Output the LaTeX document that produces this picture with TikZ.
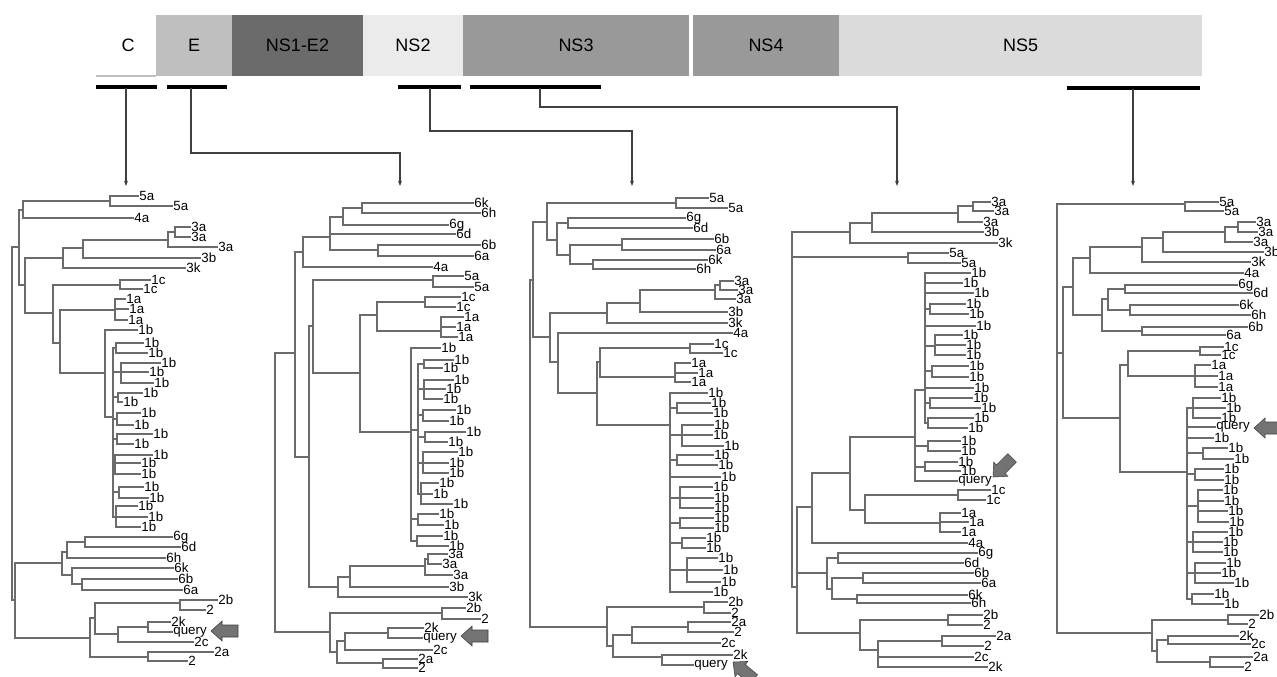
\documentclass[tikz,border=0pt]{standalone}
\usepackage{fontspec}
\setmainfont{Liberation Sans}
\usetikzlibrary{arrows.meta}
\tikzset{
  br/.style={draw=black!58,line width=0.9pt,line cap=rect},
  lbl/.style={anchor=west,inner sep=0.6pt,font=\fontsize{10}{10}\selectfont,text=black},
  seglbl/.style={font=\fontsize{13.5}{14}\selectfont,text=black},
  ul/.style={draw=black,line width=2.4pt},
  conn/.style={draw=black!75,line width=0.8pt,-{Stealth[length=4pt,width=3pt]}},
  qa/.style={fill=black!55,draw=black!75,line width=0.4pt}
}
\newcommand\vt[3]{\draw[br] (#1,#2) -- (#1,#3);}
\newcommand\hz[3]{\draw[br] (#1,#3) -- (#2,#3);}
\newcommand\lf[4]{\draw[br] (#1,#3) -- (#2,#3) node[lbl]{#4};}
\newcommand\gp[4]{\vt{#1}{#2}{#3}\foreach \xe/\ye/\lb in {#4}{\draw[br] (#1,\ye) -- (\xe,\ye) node[lbl]{\lb};}}
\newcommand\qarrow[3]{\fill[qa,shift={(#1,#2)},rotate=#3] (0,0) -- (11,10) -- (11,6) -- (27,6) -- (27,-6) -- (11,-6) -- (11,-10) -- cycle;}
\begin{document}
\begin{tikzpicture}[x=0.75pt,y=-0.75pt]
\fill[white] (0,0) rectangle (1277,676);
\useasboundingbox (0,0) rectangle (1277,676);
% ---------------- genome bar ----------------
\draw[black!25,line width=0.8pt] (96,76) -- (156,76);
\node[seglbl] (C) at (128,45) {C};
\path[fill=black!25] (156,15) rectangle (232,76) node[midway,seglbl] (E) {E};
\path[fill=black!58] (232,15) rectangle (363,76) node[midway,seglbl] (NSa) {NS1-E2};
\path[fill=black!8] (363,15) rectangle (463,76) node[midway,seglbl] (NSb) {NS2};
\path[fill=black!40] (463,15) rectangle (689,76) node[midway,seglbl] (NSc) {NS3};
\path[fill=black!40] (693,15) rectangle (839,76) node[midway,seglbl] (NSd) {NS4};
\path[fill=black!14] (839,15) rectangle (1202,76) node[midway,seglbl] (NSe) {NS5};
% underlines
\draw[ul] (96,87) -- (157,87);
\draw[ul] (167,87) -- (227,87);
\draw[ul] (398,87) -- (461,87);
\draw[ul] (470,87) -- (601,87);
\draw[ul] (1067,88) -- (1200,88);
\coordinate (uC) at (126,88);
\coordinate (uE) at (191,88);
\coordinate (uNSb) at (430,88);
\coordinate (uNSc) at (540,88);
\coordinate (uNSe) at (1133,89);
\coordinate (t1) at (126,186);
\coordinate (t2) at (400,186);
\coordinate (t3) at (632,186);
\coordinate (t4) at (897,186);
\coordinate (t5) at (1133,186);
\draw[conn] (uC) -- (t1);
\draw[conn] (uE) -- ++(0,65) -| (t2);
\draw[conn] (uNSb) -- ++(0,43) -| (t3);
\draw[conn] (uNSc) -- ++(0,19) -| (t4);
\draw[conn] (uNSe) -- (t5);
% ================= TREE 1 =================
\vt{12}{247}{600}
\hz{12}{19}{247}
\vt{19}{210}{285}
\hz{19}{23}{210}
\vt{23}{201}{218}
\hz{23}{110}{201}
\gp{110}{196}{206}{138/196/5a,172/206/5a}
\lf{23}{133}{218}{4a}
\hz{19}{25}{285}
\vt{25}{258}{313}
\hz{25}{63}{258}
\vt{63}{248}{268}
\hz{63}{83}{248}
\vt{83}{240}{258}
\hz{83}{168}{240}
\vt{168}{232}{247}
\hz{168}{175}{232}
\gp{175}{227}{237}{190/227/3a,190/237/3a}
\lf{168}{217}{247}{3a}
\lf{83}{200}{258}{3b}
\lf{63}{185}{268}{3k}
\hz{25}{53}{313}
\vt{53}{285}{343}
\hz{53}{120}{285}
\gp{120}{280}{289}{150/280/1c,142/289/1c}
\hz{53}{60}{343}
\vt{60}{310}{373}
\hz{60}{115}{310}
\gp{115}{299}{320}{125/299/1a,128/309/1a,127/320/1a}
\hz{60}{105}{373}
\vt{105}{330}{417}
\lf{105}{137}{330}{1b}
\hz{105}{113}{417}
\vt{113}{348}{517}
\hz{113}{116}{348}\gp{116}{343}{353}{143/343/1b,147/353/1b}
\hz{113}{121}{372}\gp{121}{363}{383}{160/363/1b,148/372/1b,153/383/1b}
\hz{113}{118}{397}\gp{118}{393}{402}{142/393/1b,122/402/1b}
\hz{113}{117}{419}\gp{117}{413}{425}{140/413/1b,133/425/1b}
\hz{113}{117}{439}\gp{117}{434}{444}{152/434/1b,133/444/1b}
\hz{113}{115}{463}\gp{115}{455}{474}{152/455/1b,140/463/1b,140/474/1b}
\hz{113}{119}{492}\gp{119}{487}{498}{143/487/1b,148/498/1b}
\hz{113}{116}{517}\gp{116}{506}{527}{137/506/1b,147/517/1b,140/527/1b}
\hz{12}{15}{600}
\vt{15}{563}{638}
\hz{15}{62}{563}
\vt{62}{552}{575}
\hz{62}{67}{552}
\vt{67}{542}{558}
\hz{67}{85}{542}
\gp{85}{537}{547}{172/537/6g,180/547/6d}
\lf{67}{165}{558}{6h}
\hz{62}{72}{575}
\vt{72}{568}{584}
\lf{72}{173}{568}{6k}
\hz{72}{82}{584}
\gp{82}{579}{590}{177/579/6b,182/590/6a}
\hz{15}{90}{638}
\vt{90}{618}{657}
\hz{90}{95}{618}
\vt{95}{603}{634}
\hz{95}{180}{603}
\gp{180}{600}{610}{217/600/2b,205/610/2}
\hz{95}{118}{634}
\vt{118}{627}{642}
\hz{118}{148}{627}
\gp{148}{622}{632}{170/622/2k,172/632/query}
\lf{118}{193}{642}{2c}
\hz{90}{148}{657}
\gp{148}{652}{661}{213/652/2a,187/661/2}
\qarrow{211}{631}{0}
% ================= TREE 2 =================
\vt{275}{353}{632}
\hz{275}{295}{353}
\vt{295}{252}{457}
\hz{295}{303}{252}
\vt{303}{237}{267}
\hz{303}{330}{237}
\vt{330}{217}{250}
\hz{330}{343}{217}
\vt{343}{208}{225}
\hz{343}{362}{208}
\gp{362}{203}{213}{473/203/6k,480/213/6h}
\lf{343}{448}{225}{6g}
\lf{330}{455}{234}{6d}
\hz{330}{378}{250}
\gp{378}{245}{256}{480/245/6b,473/256/6a}
\lf{303}{432}{267}{4a}
\hz{295}{309}{457}
\vt{309}{326}{587}
\hz{309}{313}{326}
\vt{313}{280}{373}
\hz{313}{433}{280}
\gp{433}{276}{287}{463/276/5a,473/287/5a}
\hz{313}{360}{373}
\vt{360}{315}{432}
\hz{360}{377}{315}
\vt{377}{302}{331}
\hz{377}{425}{302}
\gp{425}{297}{307}{460/297/1c,455/307/1c}
\hz{377}{441}{331}
\gp{441}{317}{337}{463/317/1a,455/327/1a,457/337/1a}
\hz{360}{411}{432}
\vt{411}{348}{541}
\lf{411}{440}{348}{1b}
\hz{411}{418}{430}
\vt{418}{364}{494}
\hz{418}{424}{364}\gp{424}{360}{368}{453/360/1b,442/368/1b}
\hz{418}{424}{389}\gp{424}{380}{399}{453/380/1b,445/389/1b,442/399/1b}
\hz{418}{423}{415}\gp{423}{410}{421}{455/410/1b,448/421/1b}
\hz{418}{425}{437}\gp{425}{432}{442}{465/432/1b,447/442/1b}
\hz{418}{423}{463}\gp{423}{452}{473}{457/452/1b,448/463/1b,448/473/1b}
\hz{418}{421}{494}\gp{421}{483}{504}{438/483/1b,432/494/1b,452/504/1b}
\hz{411}{418}{519}\gp{418}{514}{525}{438/514/1b,443/525/1b}
\hz{411}{417}{541}\gp{417}{536}{546}{442/536/1b,448/546/1b}
\hz{309}{338}{587}
\vt{338}{577}{597}
\hz{338}{350}{577}
\vt{350}{566}{587}
\hz{350}{425}{566}
\vt{425}{559}{575}
\hz{425}{428}{559}
\gp{428}{554}{564}{447/554/3a,441/564/3a}
\lf{425}{452}{575}{3a}
\lf{350}{448}{587}{3b}
\lf{338}{467}{597}{3k}
\hz{275}{330}{632}
\vt{330}{613}{652}
\hz{330}{442}{613}
\gp{442}{608}{619}{465/608/2b,480/619/2}
\hz{330}{337}{652}
\vt{337}{641}{663}
\hz{337}{345}{641}
\vt{345}{633}{650}
\hz{345}{388}{633}
\gp{388}{628}{638}{423/628/2k,422/638/query}
\lf{345}{432}{650}{2c}
\hz{337}{383}{663}
\gp{383}{659}{668}{417/659/2a,417/668/2}
\qarrow{461}{636}{0}
% ================= TREE 3 =================
\vt{530}{280}{627}
\hz{530}{533}{280}
\vt{533}{222}{337}
\hz{533}{547}{222}
\vt{547}{203}{240}
\hz{547}{676}{203}
\gp{676}{198}{208}{708/198/5a,727/208/5a}
\hz{547}{557}{240}
\vt{557}{223}{255}
\hz{557}{568}{223}
\gp{568}{218}{228}{685/218/6g,692/228/6d}
\hz{557}{570}{255}
\vt{570}{245}{264}
\hz{570}{622}{245}
\gp{622}{239}{250}{713/239/6b,715/250/6a}
\hz{570}{593}{264}
\gp{593}{260}{269}{707/260/6k,695/269/6h}
\hz{533}{550}{337}
\vt{550}{313}{362}
\hz{550}{607}{313}
\vt{607}{303}{323}
\hz{607}{640}{303}
\vt{640}{290}{312}
\hz{640}{715}{290}
\vt{715}{285}{299}
\hz{715}{720}{285}
\gp{720}{281}{290}{733/281/3a,737/290/3a}
\lf{715}{735}{299}{3a}
\lf{640}{727}{312}{3b}
\lf{607}{727}{323}{3k}
\hz{550}{558}{362}
\vt{558}{333}{393}
\lf{558}{732}{333}{4a}
\hz{558}{597}{393}
\vt{597}{362}{425}
\hz{597}{600}{362}
\vt{600}{348}{377}
\hz{600}{690}{348}
\gp{690}{344}{353}{713/344/1c,722/353/1c}
\hz{600}{675}{377}
\gp{675}{363}{382}{690/363/1a,697/373/1a,690/382/1a}
\hz{597}{670}{425}
\vt{670}{393}{592}
\lf{670}{707}{393}{1b}
\hz{670}{677}{408}\gp{677}{403}{413}{710/403/1b,712/413/1b}
\hz{670}{682}{435}\gp{682}{425}{446}{713/425/1b,712/435/1b,723/446/1b}
\hz{670}{677}{460}\gp{677}{455}{465}{713/455/1b,717/465/1b}
\lf{670}{720}{477}{1b}
\hz{670}{680}{498}\gp{680}{487}{508}{712/487/1b,713/498/1b,713/508/1b}
\hz{670}{680}{523}\gp{680}{518}{528}{713/518/1b,713/528/1b}
\hz{670}{682}{543}\gp{682}{538}{548}{705/538/1b,705/548/1b}
\hz{670}{687}{570}\gp{687}{558}{582}{717/558/1b,722/570/1b,720/582/1b}
\lf{670}{712}{592}{1b}
\hz{530}{607}{627}
\vt{607}{607}{646}
\hz{607}{704}{607}
\gp{704}{602}{613}{727/602/2b,730/613/2}
\hz{607}{613}{646}
\vt{613}{635}{657}
\hz{613}{632}{635}
\vt{632}{627}{643}
\hz{632}{688}{627}
\gp{688}{622}{632}{730/622/2a,733/632/2}
\lf{632}{720}{643}{2c}
\hz{613}{662}{657}
\gp{662}{655}{665}{732/655/2k,693/665/query}
\qarrow{733}{662}{-40}
% ================= TREE 4 =================
\vt{792}{232}{587}
\hz{792}{850}{232}
\vt{850}{223}{243}
\hz{850}{872}{223}
\vt{872}{213}{232}
\hz{872}{958}{213}
\vt{958}{206}{222}
\hz{958}{973}{206}
\gp{973}{202}{211}{990/202/3a,993/211/3a}
\lf{958}{982}{222}{3a}
\lf{872}{983}{232}{3b}
\lf{850}{997}{243}{3k}
\hz{792}{908}{257}
\gp{908}{253}{263}{948/253/5a,960/263/5a}
\hz{792}{797}{587}
\vt{797}{507}{633}
\hz{797}{812}{507}
\vt{812}{473}{543}
\hz{812}{850}{473}
\vt{850}{437}{510}
\hz{850}{915}{437}
\vt{915}{390}{481}
\hz{915}{925}{390}
\vt{925}{273}{423}
\lf{925}{970}{273}{1b}
\lf{925}{962}{283}{1b}
\lf{925}{973}{293}{1b}
\hz{925}{930}{309}\gp{930}{304}{314}{965/304/1b,968/314/1b}
\lf{925}{975}{326}{1b}
\hz{925}{935}{346}\gp{935}{335}{355}{962/335/1b,965/345/1b,965/355/1b}
\hz{925}{932}{371}\gp{932}{366}{377}{968/366/1b,968/377/1b}
\lf{925}{973}{388}{1b}
\hz{925}{930}{403}\gp{930}{398}{408}{972/398/1b,980/408/1b}
\hz{925}{928}{423}\gp{928}{418}{428}{973/418/1b,967/428/1b}
\hz{915}{928}{446}\gp{928}{441}{451}{960/441/1b,960/451/1b}
\hz{915}{925}{467}\gp{925}{462}{471}{957/462/1b,960/471/1b}
\lf{915}{957}{481}{query}
\hz{850}{865}{510}
\vt{865}{495}{523}
\hz{865}{958}{495}
\gp{958}{490}{500}{990/490/1c,985/500/1c}
\hz{865}{940}{523}
\gp{940}{513}{532}{960/513/1a,968/522/1a,960/532/1a}
\lf{812}{967}{543}{4a}
\hz{797}{827}{573}
\vt{827}{558}{589}
\hz{827}{838}{558}
\gp{838}{553}{563}{977/553/6g,963/563/6d}
\hz{827}{832}{589}
\vt{832}{578}{599}
\hz{832}{863}{578}
\gp{863}{573}{583}{973/573/6b,980/583/6a}
\hz{832}{857}{599}
\gp{857}{595}{603}{967/595/6k,970/603/6h}
\hz{797}{860}{633}
\vt{860}{620}{650}
\hz{860}{948}{620}
\gp{948}{615}{625}{982/615/2b,982/625/2}
\hz{860}{878}{650}
\vt{878}{641}{667}
\hz{878}{942}{641}
\gp{942}{636}{646}{995/636/2a,983/646/2}
\lf{878}{973}{657}{2c}
\lf{878}{987}{667}{2k}
\qarrow{993}{477}{45}
% ================= TREE 5 =================
\vt{1057}{204}{633}
\hz{1057}{1185}{204}
\gp{1185}{202}{211}{1218/202/5a,1223/211/5a}
\hz{1057}{1063}{353}
\vt{1063}{287}{418}
\hz{1063}{1073}{287}
\vt{1073}{258}{315}
\hz{1073}{1090}{258}
\vt{1090}{247}{273}
\hz{1090}{1142}{247}
\vt{1142}{238}{262}
\hz{1142}{1163}{238}
\vt{1163}{232}{252}
\hz{1163}{1225}{232}
\vt{1225}{227}{242}
\hz{1225}{1238}{227}
\gp{1238}{222}{232}{1255/222/3a,1257/232/3a}
\lf{1225}{1252}{242}{3a}
\lf{1163}{1263}{252}{3b}
\lf{1142}{1250}{262}{3k}
\lf{1090}{1243}{273}{4a}
\hz{1073}{1102}{315}
\vt{1102}{299}{331}
\hz{1102}{1108}{299}
\vt{1108}{289}{310}
\hz{1108}{1125}{289}
\gp{1125}{285}{293}{1237/285/6g,1252/293/6d}
\hz{1108}{1130}{310}
\gp{1130}{305}{315}{1238/305/6k,1250/315/6h}
\hz{1102}{1142}{331}
\gp{1142}{327}{335}{1247/327/6b,1225/335/6a}
\hz{1063}{1120}{418}
\vt{1120}{365}{472}
\hz{1120}{1128}{365}
\vt{1128}{351}{376}
\hz{1128}{1200}{351}
\gp{1200}{347}{355}{1223/347/1c,1220/355/1c}
\hz{1128}{1195}{376}
\gp{1195}{365}{387}{1210/365/1a,1217/376/1a,1217/387/1a}
\hz{1120}{1187}{472}
\vt{1187}{408}{599}
\hz{1187}{1193}{408}\gp{1193}{398}{418}{1220/398/1b,1225/408/1b,1220/418/1b}
\lf{1187}{1215}{427}{query}
\lf{1187}{1213}{438}{1b}
\hz{1187}{1203}{453}\gp{1203}{448}{459}{1227/448/1b,1233/459/1b}
\hz{1187}{1195}{474}\gp{1195}{469}{480}{1223/469/1b,1223/480/1b}
\hz{1187}{1198}{506}\gp{1198}{490}{522}{1222/490/1b,1223/501/1b,1227/511/1b,1228/522/1b}
\hz{1187}{1193}{542}\gp{1193}{532}{552}{1227/532/1b,1222/542/1b,1222/552/1b}
\hz{1187}{1195}{573}\gp{1195}{563}{583}{1225/563/1b,1220/573/1b,1233/583/1b}
\hz{1187}{1192}{599}\gp{1192}{594}{604}{1213/594/1b,1223/604/1b}
\hz{1057}{1152}{633}
\vt{1152}{620}{651}
\hz{1152}{1228}{620}
\gp{1228}{615}{624}{1258/615/2b,1247/624/2}
\hz{1152}{1157}{651}
\vt{1157}{640}{662}
\hz{1157}{1168}{640}
\gp{1168}{636}{644}{1238/636/2k,1250/644/2c}
\hz{1157}{1210}{662}
\gp{1210}{657}{667}{1252/657/2a,1243/667/2}
\qarrow{1254}{428}{0}
\end{tikzpicture}
\end{document}
